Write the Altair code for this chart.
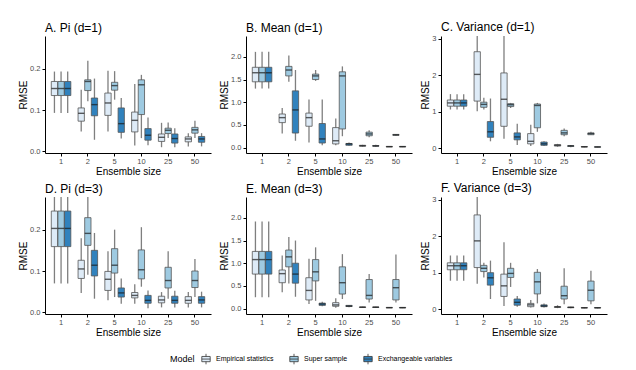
import altair as alt
import pandas as pd

SIZES = ["1", "2", "5", "10", "25", "50"]
MODELS = ["Empirical statistics", "Super sample", "Exchangeable variables"]
COLORS = ["#deebf7", "#9ecae1", "#3182bd"]

# Each list: 6 ensemble sizes x 3 models (Empirical, Super, Exchangeable)
# ---- A. Pi (d=1)
A_LO  = [.093, .093, .093,  .048, .121, .028,  .048, .125, .031,  .014, .032, .015,  .010, .032, .010,  .012, .032, .012]
A_Q1  = [.135, .135, .135,  .073, .147, .086,  .087, .148, .046,  .047, .089, .027,  .024, .043, .020,  .023, .044, .022]
A_MED = [.152, .152, .152,  .092, .169, .113,  .117, .159, .067,  .075, .161, .039,  .034, .051, .031,  .030, .052, .030]
A_Q3  = [.169, .169, .169,  .105, .173, .129,  .141, .167, .105,  .095, .173, .055,  .042, .056, .042,  .035, .058, .036]
A_HI  = [.193, .193, .193,  .149, .219, .176,  .195, .194, .129,  .163, .185, .082,  .069, .070, .056,  .044, .074, .044]
# ---- B. Mean (d=1)
B_LO  = [1.30, 1.30, 1.30,  .31, 1.45, .15,  .11, 1.47, .05,  .05, .25, .04,  .02, .23, .02,   .01, .26, .01]
B_Q1  = [1.45, 1.45, 1.45,  .55, 1.58, .32,  .47, 1.50, .10,  .08, .41, .05,  .03, .26, .03,   .015, .27, .015]
B_MED = [1.65, 1.65, 1.65,  .66, 1.71, .83,  .66, 1.58, .19,  .15, 1.58, .08, .04, .30, .035,  .02, .28, .02]
B_Q3  = [1.77, 1.77, 1.77,  .74, 1.79, 1.25, .76, 1.62, .53,  .44, 1.67, .09, .05, .34, .045,  .025, .29, .025]
B_HI  = [2.11, 2.11, 2.11,  .87, 2.03, 1.71, 1.06, 1.71, 1.06, .64, 1.79, .11, .06, .38, .06,  .03, .30, .03]
# ---- C. Variance (d=1)
C_LO  = [1.06, 1.06, 1.06,  1.01, 1.06, .19,  .26, 1.10, .09,  .06, .45, .06,  .04, .33, .03,  .03, .36, .025]
C_Q1  = [1.15, 1.15, 1.15,  1.29, 1.12, .30,  .60, 1.14, .23,  .12, .56, .08,  .06, .37, .05,  .035, .37, .03]
C_MED = [1.24, 1.24, 1.24,  2.02, 1.20, .45,  1.34, 1.19, .31, .19, 1.17, .12, .08, .42, .065, .04, .40, .035]
C_Q3  = [1.32, 1.32, 1.32,  2.64, 1.26, .73,  2.06, 1.22, .42, .40, 1.21, .17, .10, .49, .07,  .045, .42, .04]
C_HI  = [1.48, 1.48, 1.48,  3.50, 1.38, 1.36, 3.50, 1.24, .67, .64, 1.24, .19, .12, .54, .09,  .05, .45, .045]
# ---- D. Pi (d=3)
D_LO  = [.070, .070, .070,  .047, .091, .033,  .029, .037, .021,  .021, .062, .010,  .012, .033, .012,  .012, .037, .012]
D_Q1  = [.159, .159, .159,  .082, .162, .088,  .053, .095, .037,  .035, .081, .022,  .023, .059, .022,  .022, .060, .022]
D_MED = [.203, .203, .203,  .105, .191, .114,  .080, .114, .047,  .041, .103, .029,  .030, .077, .029,  .029, .077, .030]
D_Q3  = [.245, .245, .245,  .126, .229, .150,  .099, .154, .059,  .048, .151, .041,  .039, .109, .039,  .038, .100, .038]
D_HI  = [.300, .300, .300,  .179, .300, .192,  .148, .200, .082,  .068, .206, .053,  .049, .148, .052,  .049, .129, .050]
# ---- E. Mean (d=3)
E_LO  = [.25, .25, .25,   .36, .55, .26,   .10, .17, .05,   .02, .21, .03,    .02, .135, .02,   .01, .135, .01]
E_Q1  = [.76, .76, .76,   .57, .92, .56,   .19, .61, .07,   .05, .32, .045,   .025, .21, .025,  .015, .19, .015]
E_MED = [1.08, 1.08, 1.08, .77, 1.14, .76, .40, .81, .10,   .08, .57, .055,   .03, .29, .03,    .02, .46, .02]
E_Q3  = [1.26, 1.26, 1.26, .85, 1.29, 1.00, .68, 1.08, .12, .13, .92, .07,    .035, .64, .035,  .025, .64, .025]
E_HI  = [1.92, 1.92, 1.92, 1.17, 1.58, 1.50, 1.10, 1.35, .15, .23, 1.20, .075, .04, .76, .04,    .03, 1.19, .03]
# ---- F. Variance (d=3)
F_LO  = [.78, .78, .78,    .70, .87, .28,   .09, .61, .07,   .05, .16, .05,   .03, .14, .03,    .025, .14, .025]
F_Q1  = [1.08, 1.08, 1.08, 1.14, 1.03, .66, .35, .87, .11,   .07, .42, .07,   .05, .28, .045,   .035, .23, .035]
F_MED = [1.19, 1.19, 1.19, 1.87, 1.12, .86, .64, .98, .19,   .12, .75, .09,   .065, .37, .05,   .04, .52, .04]
F_Q3  = [1.27, 1.27, 1.27, 2.58, 1.20, 1.00, .96, 1.12, .28, .16, 1.01, .12,  .07, .63, .06,    .045, .77, .045]
F_HI  = [1.47, 1.47, 1.47, 3.40, 1.27, 1.33, 1.83, 1.27, .36, .25, 1.10, .16, .11, 1.12, .07,   .06, 1.05, .06]

TITLES = ["A. Pi (d=1)", "B. Mean (d=1)", "C. Variance (d=1)",
          "D. Pi (d=3)", "E. Mean (d=3)", "F. Variance (d=3)"]

PW, PH = 166, 117
BOX_PX = 6.2

BOXGLYPH = "M-0.8,-0.5H0.8V0.5H-0.8Z M-0.8,0H0.8 M0,-0.5V-1 M0,0.5V1"


def panel(title, lo, q1, med, q3, hi, domain, ticks, fmt):
    rows = []
    for i, s in enumerate(SIZES):
        for j, m in enumerate(MODELS):
            k = i * 3 + j
            rows.append(dict(size=s, model=m, lo=lo[k], q1=q1[k], med=med[k],
                             q3=q3[k], hi=hi[k]))
    df = pd.DataFrame(rows)
    x = alt.X("size:N", sort=SIZES, title="Ensemble size",
              scale=alt.Scale(paddingInner=0.27, paddingOuter=0.235),
              axis=alt.Axis(labelAngle=0, labelPadding=1, titlePadding=2))
    xo = alt.XOffset("model:N", sort=MODELS, scale=alt.Scale(paddingInner=0.05))
    ysc = alt.Scale(domain=domain, nice=False, zero=False)
    yax = alt.Axis(values=ticks, format=fmt, labelOverlap=False, labelFlush=False,
                   tickCount=len(ticks), titlePadding=1)
    color = alt.Color("model:N", sort=MODELS, title="Model",
                      scale=alt.Scale(domain=MODELS, range=COLORS),
                      legend=alt.Legend(orient="none", legendX=125, legendY=317,
                                        direction="horizontal", titleOrient="left",
                                        symbolType=BOXGLYPH, symbolSize=110,
                                        symbolStrokeColor="#333333",
                                        symbolStrokeWidth=0.8, symbolOpacity=1,
                                        labelFontSize=7, titleFontSize=9,
                                        titleFontWeight="normal", columnPadding=14,
                                        labelLimit=200))
    base = alt.Chart(df)
    whisk = base.mark_rule(color="#7f7f7f", strokeWidth=1.3, clip=True).encode(
        x=x, xOffset=xo,
        y=alt.Y("lo:Q", scale=ysc, axis=yax, title="RMSE"), y2="hi:Q")
    box = base.mark_bar(stroke="#555555", strokeWidth=0.8, clip=True).encode(
        x=x, xOffset=xo, y=alt.Y("q1:Q", scale=ysc, axis=yax, title="RMSE"),
        y2="q3:Q", fill=color)
    mid = base.mark_tick(color="#1a1a1a", thickness=1.4, size=BOX_PX, clip=True).encode(
        x=x, xOffset=xo, y=alt.Y("med:Q", scale=ysc, axis=yax, title="RMSE"))
    return alt.layer(whisk, box, mid).properties(
        width=PW, height=PH,
        title=alt.TitleParams(title, anchor="start", frame="group", fontSize=12,
                              fontWeight="normal", offset=1, color="black"))


dom_pi = [-0.004, 0.279]
dom_mean = [-0.12, 2.46]
dom_var = [-0.13, 3.07]
tk_pi = [0, 0.1, 0.2]
tk_mean = [0, 0.5, 1.0, 1.5, 2.0]
tk_var = [0, 1, 2, 3]

pA = panel(TITLES[0], A_LO, A_Q1, A_MED, A_Q3, A_HI, dom_pi, tk_pi, ".1f")
pB = panel(TITLES[1], B_LO, B_Q1, B_MED, B_Q3, B_HI, dom_mean, tk_mean, ".1f")
pC = panel(TITLES[2], C_LO, C_Q1, C_MED, C_Q3, C_HI, dom_var, tk_var, "d")
pD = panel(TITLES[3], D_LO, D_Q1, D_MED, D_Q3, D_HI, dom_pi, tk_pi, ".1f")
pE = panel(TITLES[4], E_LO, E_Q1, E_MED, E_Q3, E_HI, dom_mean, tk_mean, ".1f")
pF = panel(TITLES[5], F_LO, F_Q1, F_MED, F_Q3, F_HI, dom_var, tk_var, "d")

row1 = alt.hconcat(pA, pB, pC, spacing=8)
row2 = alt.hconcat(pD, pE, pF, spacing=8)

chart = alt.vconcat(row1, row2, spacing=4).resolve_scale(color="shared").properties(
    padding={"left": 10, "top": 12, "right": 5, "bottom": 20},
    background="white",
).configure_view(stroke=None).configure_axis(
    labelFont="Liberation Sans", titleFont="Liberation Sans",
    labelFontSize=7.5, labelColor="#4d4d4d", titleFontSize=10,
    titleFontWeight="normal", titleColor="black",
    domainColor="black", domainWidth=1, tickColor="black", tickSize=3,
    labelPadding=2, titlePadding=3, grid=False,
).configure_title(font="Liberation Sans").configure_legend(
    labelFont="Liberation Sans", titleFont="Liberation Sans"
)

chart.save("out.html", embed_options={"renderer": "svg", "actions": False})
